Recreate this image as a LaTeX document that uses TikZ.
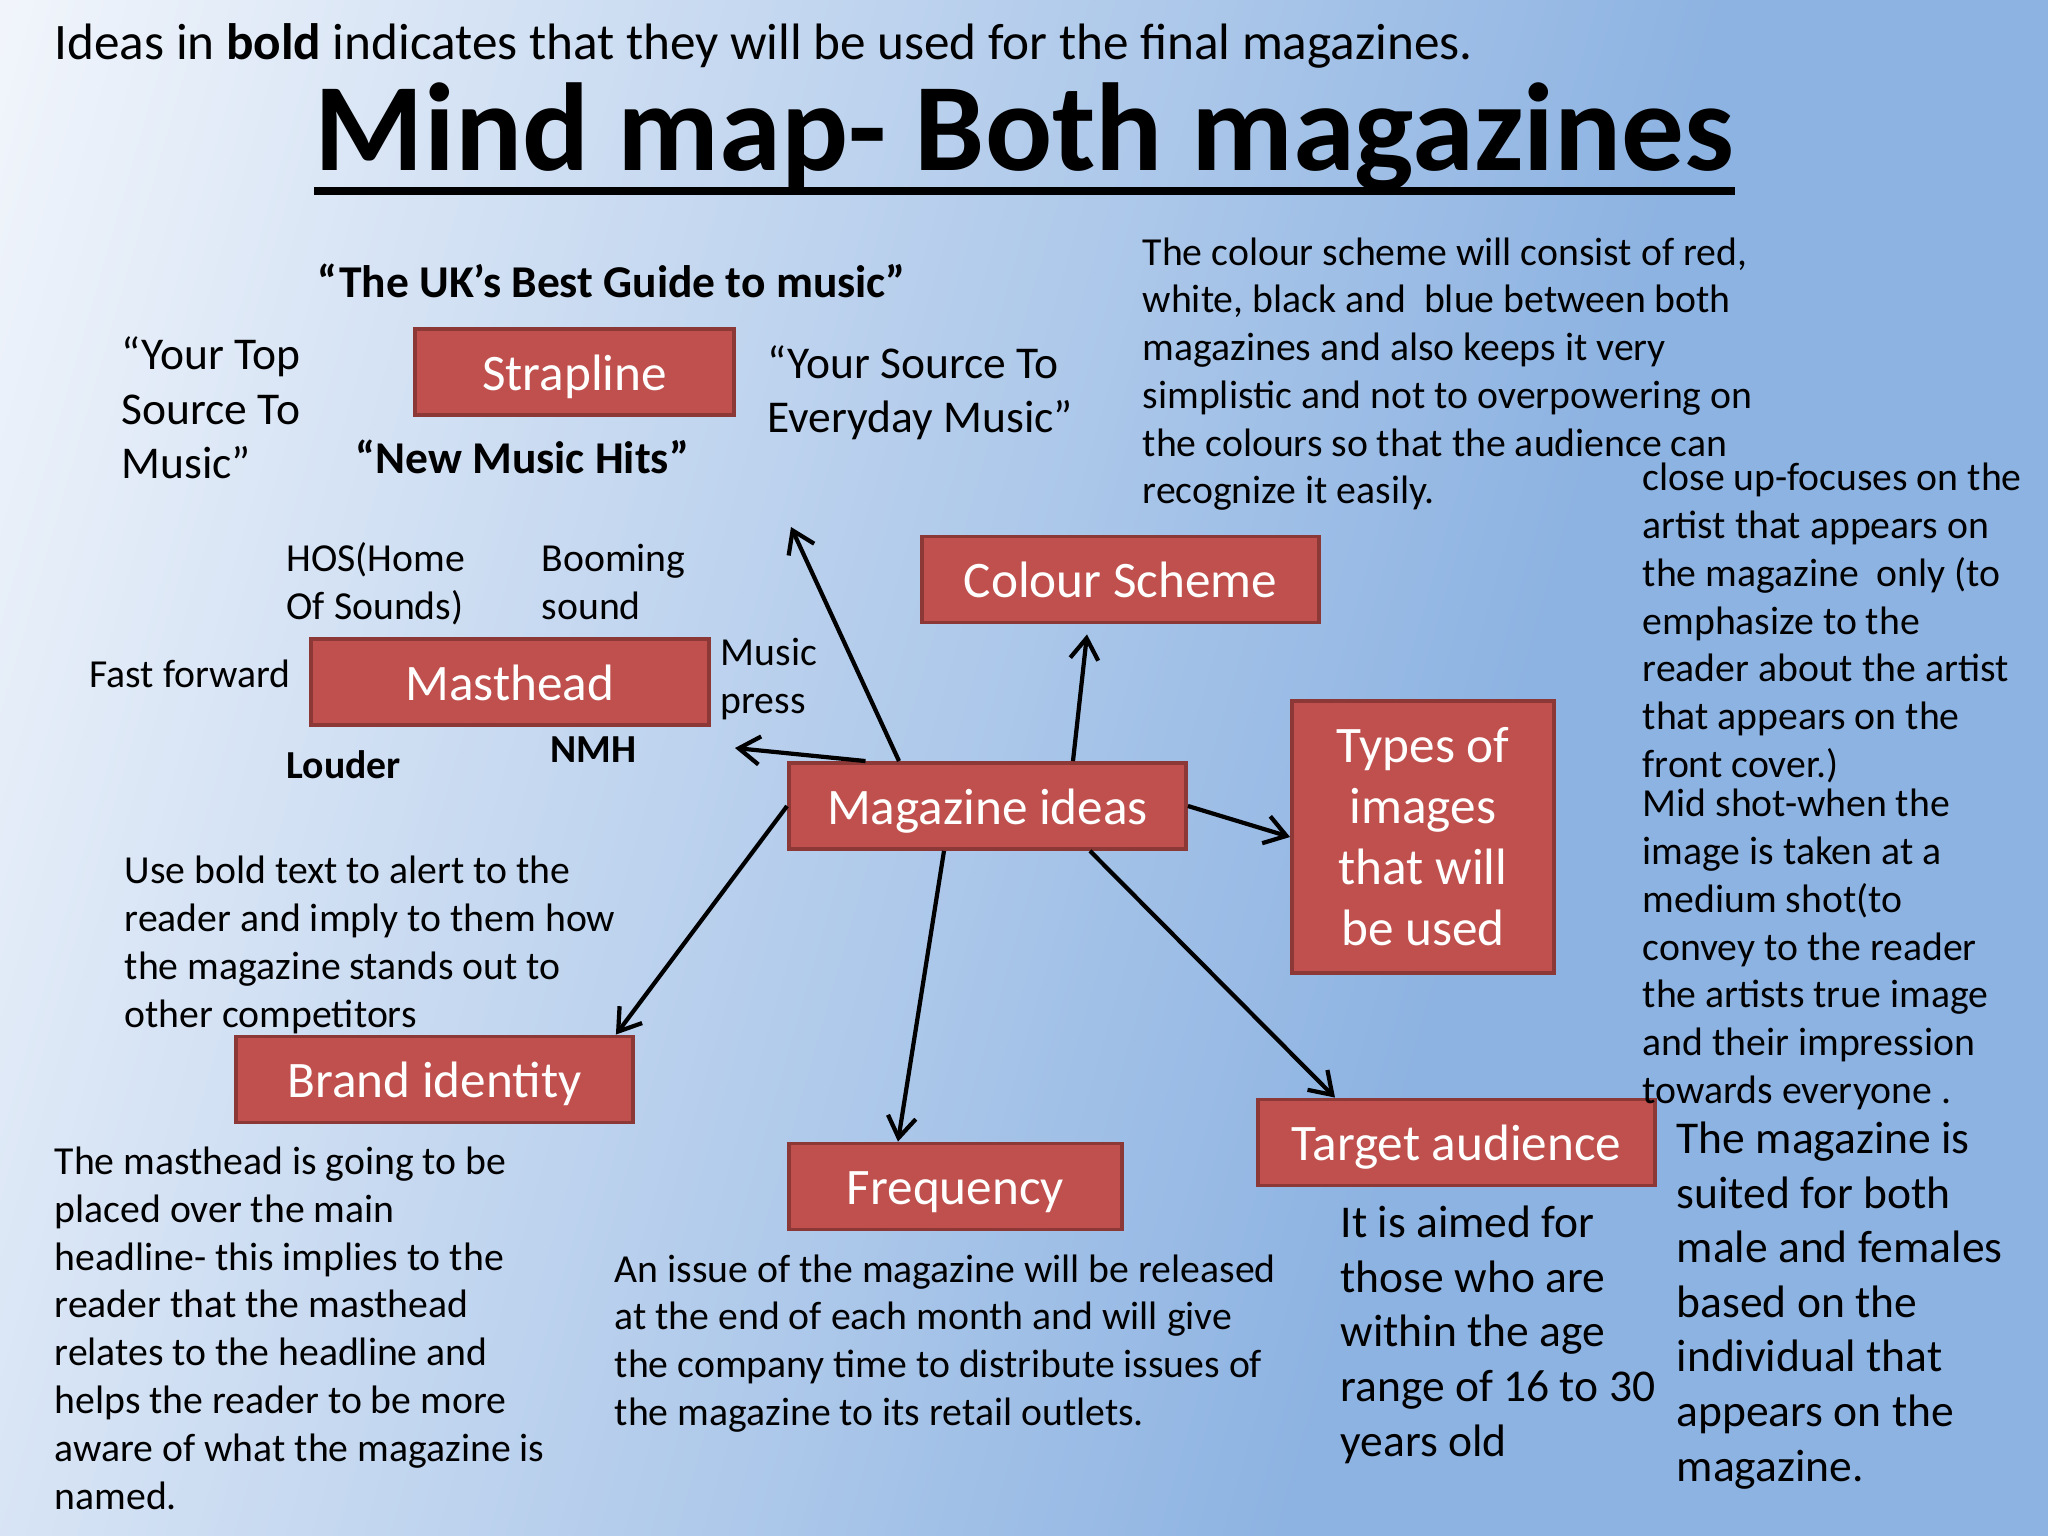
\documentclass[tikz,border=0pt]{standalone}
\usepackage{fontspec}
\setmainfont{Carlito}
\usepackage{xcolor}
\usetikzlibrary{positioning, arrows.meta, calc}

\definecolor{ideared}{RGB}{192,80,77}
\definecolor{ideaedge}{RGB}{140,56,54}
\definecolor{bglight}{RGB}{244,247,252}
\definecolor{bgblue}{RGB}{141,179,226}

\pgfdeclarehorizontalshading{slidebg}{100bp}{color(0bp)=(bglight); color(18bp)=(bglight); color(62bp)=(bgblue); color(100bp)=(bgblue)}

\newcommand{\notefont}{\fontsize{11.3}{13.6}\selectfont}
\newcommand{\bigfont}{\fontsize{12.95}{15.53}\selectfont}
\newcommand{\ideafont}{\fontsize{14.57}{17.36}\selectfont}
\newcommand{\titlefont}{\fontsize{35.6}{40}\selectfont\bfseries}

\begin{document}
\begin{tikzpicture}[
  ideabase/.style={draw=ideaedge, fill=ideared, line width=1.1pt, text=white, font=\ideafont, align=center, inner sep=2pt},
  idea/.style={ideabase, minimum height=0.86cm, text height=11.6pt, text depth=1.1pt},
  tallidea/.style={ideabase},
  note/.style={font=\notefont, align=left, anchor=base west, inner sep=0pt},
  bignote/.style={font=\bigfont, align=left, anchor=base west, inner sep=0pt},
  link/.style={-{Straight Barb[length=6pt, width=8pt]}, line width=1.2pt, black},
]

%% ── Slide background ─────────────────────────────────────────────────────────
\useasboundingbox (0,0) rectangle (20.48,-15.36);
\shade[shading=slidebg, shading angle=-16] (0,0) rectangle (20.48,-15.36);

%% ── Heading ──────────────────────────────────────────────────────────────────
\node[font=\ideafont, anchor=base west, inner sep=0pt] (legend) at (0.54,-0.60)
  {Ideas in \textbf{bold} indicates that they will be used for the final magazines.};
\node[font=\titlefont, anchor=base, inner sep=0pt] (title) at (10.245,-1.71) {Mind map- Both magazines};
\draw[line width=2.3pt] ([yshift=-0.20cm]title.base west) -- ([yshift=-0.20cm]title.base east);

%% ── Idea boxes ───────────────────────────────────────────────────────────────
\node[idea, minimum width=3.19cm] (strap)  at (5.745,-3.72)   {Strapline};
\node[idea, minimum width=3.97cm] (colour) at (11.205,-5.795) {Colour Scheme};
\node[idea, minimum width=3.98cm] (mast)   at (5.10,-6.82)    {Masthead};
\node[idea, minimum width=3.97cm] (mag)    at (9.875,-8.06)   {Magazine ideas};
\node[tallidea, minimum width=2.62cm, minimum height=2.72cm] (types) at (14.23,-8.37)
  {Types of\\images\\that will\\be used};
\node[idea, minimum width=3.97cm] (brand)  at (4.345,-10.795) {Brand identity};
\node[idea, minimum width=3.33cm] (freq)   at (9.555,-11.865) {Frequency};
\node[idea, minimum width=3.97cm] (target) at (14.565,-11.425) {Target audience};

%% ── Arrows out of the centre box ─────────────────────────────────────────────
\coordinate (straptip) at (7.91,-5.27);
\coordinate (masttip)  at (7.35,-7.48);
\draw[link] ([xshift=-0.885cm]mag.north) -- (straptip);
\draw[link] ([xshift=-1.22cm]mag.north) -- (masttip);
\draw[link] ([xshift=0.855cm]mag.north) -- ([xshift=-0.335cm, yshift=-0.1cm]colour.south);
\draw[link] (mag.east) -- (types.west);
\draw[link] ([xshift=1.025cm]mag.south) -- ([xshift=-1.215cm]target.north);
\draw[link] ([xshift=-0.435cm]mag.south) -- ([xshift=-0.575cm]freq.north);
\draw[link] (mag.west) -- ([xshift=-0.19cm]brand.north east);

%% ── Strapline ideas (multi-line notes sit on their last baseline) ────────────
\node[bignote, font=\bigfont\bfseries] (ukbest) at (3.17,-2.98) {“The UK’s Best Guide to music”};
\node[bignote] (yourtop)    at (1.21,-4.79) {“Your Top\\Source To\\Music”};
\node[bignote] (yoursource) at (7.67,-4.33) {“Your Source To\\Everyday Music”};
\node[bignote, font=\bigfont\bfseries] (newhits) at (3.55,-4.74) {“New Music Hits”};

%% ── Masthead ideas ───────────────────────────────────────────────────────────
\node[note] (hos)     at (2.86,-6.19) {HOS(Home\\Of Sounds)};
\node[note] (booming) at (5.41,-6.19) {Booming\\sound};
\node[note] (fastfwd) at (0.89,-6.88) {Fast forward};
\node[note] (press)   at (7.20,-7.13) {Music\\press};
\node[note, font=\notefont\bfseries] (louder) at (2.86,-7.79) {Louder};
\node[note, font=\notefont\bfseries] (nmh)    at (5.50,-7.62) {NMH};

%% ── Notes ────────────────────────────────────────────────────────────────────
\node[note] (boldtext) at (1.24,-10.27)
  {Use bold text to alert to the\\reader and imply to them how\\the magazine stands out to\\other competitors};
\node[note] (colourtxt) at (11.42,-5.04)
  {The colour scheme will consist of red,\\white, black and\ \ blue between both\\magazines and also keeps it very\\simplistic and not to overpowering on\\the colours so that the audience can\\recognize it easily.};
\node[note] (closeup) at (16.42,-7.775)
  {close up-focuses on the\\artist that appears on\\the magazine\ \ only (to\\emphasize to the\\reader about the artist\\that appears on the\\front cover.)};
\node[note] (midshot) at (16.42,-11.035)
  {Mid shot-when the\\image is taken at a\\medium shot(to\\convey to the reader\\the artists true image\\and their impression\\towards everyone .};
\node[note] (mastnote) at (0.54,-15.09)
  {The masthead is going to be\\placed over the main\\headline- this implies to the\\reader that the masthead\\relates to the headline and\\helps the reader to be more\\aware of what the magazine is\\named.};
\node[note] (freqnote) at (6.14,-14.255)
  {An issue of the magazine will be released\\at the end of each month and will give\\the company time to distribute issues of\\the magazine to its retail outlets.};
\node[bignote] (aimed) at (13.40,-14.56)
  {It is aimed for\\those who are\\within the age\\range of 16 to 30\\years old};
\node[bignote] (suited) at (16.76,-14.81)
  {The magazine is\\suited for both\\male and females\\based on the\\individual that\\appears on the\\magazine.};

\end{tikzpicture}
\end{document}
